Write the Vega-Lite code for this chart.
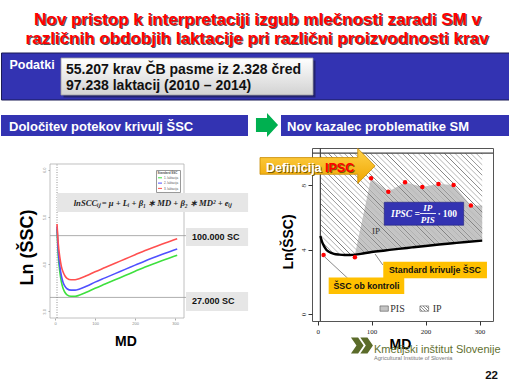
{
"$schema": "https://vega.github.io/schema/vega-lite/v6.json",
"padding": 0,
"background": "#ffffff",
"bounds": "flush",
"spacing": 0,
"config": {"view": {"stroke": null}, "font": "Liberation Sans"},
"datasets": {
"laktacije": [
{"md":5,"lnscc":4.75,"lakt":"1. laktacija"},{"md":8,"lnscc":4.2,"lakt":"1. laktacija"},{"md":12,"lnscc":3.84,"lakt":"1. laktacija"},{"md":16,"lnscc":3.62,"lakt":"1. laktacija"},{"md":20,"lnscc":3.49,"lakt":"1. laktacija"},{"md":25,"lnscc":3.4,"lakt":"1. laktacija"},{"md":30,"lnscc":3.35,"lakt":"1. laktacija"},{"md":40,"lnscc":3.32,"lakt":"1. laktacija"},{"md":50,"lnscc":3.32,"lakt":"1. laktacija"},{"md":60,"lnscc":3.34,"lakt":"1. laktacija"},{"md":80,"lnscc":3.41,"lakt":"1. laktacija"},{"md":100,"lnscc":3.49,"lakt":"1. laktacija"},{"md":125,"lnscc":3.58,"lakt":"1. laktacija"},{"md":150,"lnscc":3.67,"lakt":"1. laktacija"},{"md":175,"lnscc":3.76,"lakt":"1. laktacija"},{"md":200,"lnscc":3.85,"lakt":"1. laktacija"},{"md":225,"lnscc":3.94,"lakt":"1. laktacija"},{"md":250,"lnscc":4.02,"lakt":"1. laktacija"},{"md":275,"lnscc":4.1,"lakt":"1. laktacija"},{"md":305,"lnscc":4.19,"lakt":"1. laktacija"},
{"md":5,"lnscc":4.8,"lakt":"2. laktacija"},{"md":8,"lnscc":4.3,"lakt":"2. laktacija"},{"md":12,"lnscc":3.96,"lakt":"2. laktacija"},{"md":16,"lnscc":3.75,"lakt":"2. laktacija"},{"md":20,"lnscc":3.62,"lakt":"2. laktacija"},{"md":25,"lnscc":3.53,"lakt":"2. laktacija"},{"md":30,"lnscc":3.48,"lakt":"2. laktacija"},{"md":40,"lnscc":3.45,"lakt":"2. laktacija"},{"md":50,"lnscc":3.45,"lakt":"2. laktacija"},{"md":60,"lnscc":3.47,"lakt":"2. laktacija"},{"md":80,"lnscc":3.54,"lakt":"2. laktacija"},{"md":100,"lnscc":3.62,"lakt":"2. laktacija"},{"md":125,"lnscc":3.71,"lakt":"2. laktacija"},{"md":150,"lnscc":3.8,"lakt":"2. laktacija"},{"md":175,"lnscc":3.89,"lakt":"2. laktacija"},{"md":200,"lnscc":3.98,"lakt":"2. laktacija"},{"md":225,"lnscc":4.07,"lakt":"2. laktacija"},{"md":250,"lnscc":4.15,"lakt":"2. laktacija"},{"md":275,"lnscc":4.23,"lakt":"2. laktacija"},{"md":305,"lnscc":4.32,"lakt":"2. laktacija"},
{"md":5,"lnscc":4.85,"lakt":"3. laktacija"},{"md":8,"lnscc":4.45,"lakt":"3. laktacija"},{"md":12,"lnscc":4.15,"lakt":"3. laktacija"},{"md":16,"lnscc":3.95,"lakt":"3. laktacija"},{"md":20,"lnscc":3.84,"lakt":"3. laktacija"},{"md":25,"lnscc":3.75,"lakt":"3. laktacija"},{"md":30,"lnscc":3.7,"lakt":"3. laktacija"},{"md":40,"lnscc":3.67,"lakt":"3. laktacija"},{"md":50,"lnscc":3.67,"lakt":"3. laktacija"},{"md":60,"lnscc":3.69,"lakt":"3. laktacija"},{"md":80,"lnscc":3.76,"lakt":"3. laktacija"},{"md":100,"lnscc":3.84,"lakt":"3. laktacija"},{"md":125,"lnscc":3.93,"lakt":"3. laktacija"},{"md":150,"lnscc":4.02,"lakt":"3. laktacija"},{"md":175,"lnscc":4.11,"lakt":"3. laktacija"},{"md":200,"lnscc":4.2,"lakt":"3. laktacija"},{"md":225,"lnscc":4.29,"lakt":"3. laktacija"},{"md":250,"lnscc":4.37,"lakt":"3. laktacija"},{"md":275,"lnscc":4.45,"lakt":"3. laktacija"},{"md":305,"lnscc":4.54,"lakt":"3. laktacija"}
],
"standard": [
{"md":5,"ssc":4.85},{"md":8,"ssc":4.5},{"md":12,"ssc":4.2},{"md":16,"ssc":4.0},{"md":20,"ssc":3.88},{"md":25,"ssc":3.8},{"md":30,"ssc":3.74},{"md":40,"ssc":3.69},{"md":50,"ssc":3.67},{"md":60,"ssc":3.67},{"md":70,"ssc":3.69},{"md":80,"ssc":3.74},{"md":100,"ssc":3.85},{"md":125,"ssc":3.95},{"md":150,"ssc":4.05},{"md":175,"ssc":4.14},{"md":200,"ssc":4.23},{"md":225,"ssc":4.32},{"md":250,"ssc":4.4},{"md":275,"ssc":4.48},{"md":305,"ssc":4.56}
],
"pis": [
{"md":69,"top":3.69,"bottom":3.69},{"md":99,"top":8.44,"bottom":3.85},{"md":131,"top":7.6,"bottom":3.97},{"md":162,"top":8.19,"bottom":4.09},{"md":194,"top":7.9,"bottom":4.21},{"md":224,"top":8.08,"bottom":4.32},{"md":252,"top":8.02,"bottom":4.41},{"md":284,"top":6.75,"bottom":4.5},{"md":305,"top":6.75,"bottom":4.56}
],
"kontrola": [
{"md":11,"ssc":3.67},{"md":69,"ssc":3.52},{"md":99,"ssc":8.44},{"md":131,"ssc":7.6},{"md":162,"ssc":8.19},{"md":194,"ssc":7.9},{"md":224,"ssc":8.08},{"md":252,"ssc":8.02},{"md":284,"ssc":6.75}
]
},
"vconcat": [
{
"width": 509, "height": 148,
"data": {"values": [{}]},
"layer": [
{"mark": {"type":"rect","fill":"#3333B2","stroke":"#1B1B55","strokeWidth":1},
 "encoding": {"x":{"datum":0.5,"type":"quantitative","scale":{"domain":[0,509],"nice":false,"zero":false},"axis":null},"x2":{"datum":508.5},"y":{"datum":53,"type":"quantitative","scale":{"domain":[0,148],"nice":false,"zero":false,"reverse":true},"axis":null},"y2":{"datum":100}}},
{"mark": {"type":"rect","fill":"#15153a","opacity":0.55},
 "encoding": {"x":{"datum":62.5,"type":"quantitative","scale":{"domain":[0,509],"nice":false,"zero":false},"axis":null},"x2":{"datum":314.5},"y":{"datum":60.5,"type":"quantitative","scale":{"domain":[0,148],"nice":false,"zero":false,"reverse":true},"axis":null},"y2":{"datum":97.5}}},
{"mark": {"type":"rect","stroke":"#a0a0a0","strokeWidth":0.8,"fill":{"gradient":"linear","x1":0,"y1":0,"x2":0,"y2":1,"stops":[{"offset":0,"color":"#ffffff"},{"offset":1,"color":"#d2d2d2"}]}},
 "encoding": {"x":{"datum":60,"type":"quantitative","scale":{"domain":[0,509],"nice":false,"zero":false},"axis":null},"x2":{"datum":312},"y":{"datum":58,"type":"quantitative","scale":{"domain":[0,148],"nice":false,"zero":false,"reverse":true},"axis":null},"y2":{"datum":95}}},
{"mark": {"type":"rect","fill":"#3333B2"},
 "encoding": {"x":{"datum":0,"type":"quantitative","scale":{"domain":[0,509],"nice":false,"zero":false},"axis":null},"x2":{"datum":247},"y":{"datum":115,"type":"quantitative","scale":{"domain":[0,148],"nice":false,"zero":false,"reverse":true},"axis":null},"y2":{"datum":136}}},
{"mark": {"type":"rect","fill":"#3333B2"},
 "encoding": {"x":{"datum":280,"type":"quantitative","scale":{"domain":[0,509],"nice":false,"zero":false},"axis":null},"x2":{"datum":509},"y":{"datum":115,"type":"quantitative","scale":{"domain":[0,148],"nice":false,"zero":false,"reverse":true},"axis":null},"y2":{"datum":136}}},
{"mark": {"type":"point","filled":true,"opacity":1,"fill":"#00B050","strokeWidth":0,"size":576,"shape":"M -0.92 -0.58 L 0 -0.58 L 0 -1 L 0.92 0 L 0 1 L 0 0.58 L -0.92 0.58 Z"},
 "encoding": {"x":{"datum":266,"type":"quantitative","scale":{"domain":[0,509],"nice":false,"zero":false},"axis":null},"y":{"datum":125,"type":"quantitative","scale":{"domain":[0,148],"nice":false,"zero":false,"reverse":true},"axis":null}}},
{"mark": {"type":"text","text":"Nov pristop k interpretaciji izgub mlečnosti zaradi SM v","font":"Liberation Sans","fontWeight":"bold","fontSize":17,"align":"center","baseline":"alphabetic","fill":"#555555","dx":1.2,"dy":1.2},
 "encoding": {"x":{"datum":256.5,"type":"quantitative","scale":{"domain":[0,509],"nice":false,"zero":false},"axis":null},"y":{"datum":25,"type":"quantitative","scale":{"domain":[0,148],"nice":false,"zero":false,"reverse":true},"axis":null}}},
{"mark": {"type":"text","text":"Nov pristop k interpretaciji izgub mlečnosti zaradi SM v","font":"Liberation Sans","fontWeight":"bold","fontSize":17,"align":"center","baseline":"alphabetic","fill":"#FF0000"},
 "encoding": {"x":{"datum":256.5,"type":"quantitative","scale":{"domain":[0,509],"nice":false,"zero":false},"axis":null},"y":{"datum":25,"type":"quantitative","scale":{"domain":[0,148],"nice":false,"zero":false,"reverse":true},"axis":null}}},
{"mark": {"type":"text","text":"različnih obdobjih laktacije pri različni proizvodnosti krav","font":"Liberation Sans","fontWeight":"bold","fontSize":17,"align":"center","baseline":"alphabetic","fill":"#555555","dx":1.2,"dy":1.2},
 "encoding": {"x":{"datum":256,"type":"quantitative","scale":{"domain":[0,509],"nice":false,"zero":false},"axis":null},"y":{"datum":43.5,"type":"quantitative","scale":{"domain":[0,148],"nice":false,"zero":false,"reverse":true},"axis":null}}},
{"mark": {"type":"text","text":"različnih obdobjih laktacije pri različni proizvodnosti krav","font":"Liberation Sans","fontWeight":"bold","fontSize":17,"align":"center","baseline":"alphabetic","fill":"#FF0000"},
 "encoding": {"x":{"datum":256,"type":"quantitative","scale":{"domain":[0,509],"nice":false,"zero":false},"axis":null},"y":{"datum":43.5,"type":"quantitative","scale":{"domain":[0,148],"nice":false,"zero":false,"reverse":true},"axis":null}}},
{"mark": {"type":"text","text":"Podatki","font":"Liberation Sans","fontWeight":"bold","fontSize":12.5,"align":"left","baseline":"alphabetic","fill":"#ffffff"},
 "encoding": {"x":{"datum":8.5,"type":"quantitative","scale":{"domain":[0,509],"nice":false,"zero":false},"axis":null},"y":{"datum":68.5,"type":"quantitative","scale":{"domain":[0,148],"nice":false,"zero":false,"reverse":true},"axis":null}}},
{"mark": {"type":"text","text":"55.207 krav ČB pasme iz 2.328 čred","font":"Liberation Sans","fontWeight":"bold","fontSize":14,"align":"left","baseline":"alphabetic","fill":"#111111"},
 "encoding": {"x":{"datum":65,"type":"quantitative","scale":{"domain":[0,509],"nice":false,"zero":false},"axis":null},"y":{"datum":74,"type":"quantitative","scale":{"domain":[0,148],"nice":false,"zero":false,"reverse":true},"axis":null}}},
{"mark": {"type":"text","text":"97.238 laktacij (2010 – 2014)","font":"Liberation Sans","fontWeight":"bold","fontSize":14,"align":"left","baseline":"alphabetic","fill":"#111111"},
 "encoding": {"x":{"datum":65,"type":"quantitative","scale":{"domain":[0,509],"nice":false,"zero":false},"axis":null},"y":{"datum":89.5,"type":"quantitative","scale":{"domain":[0,148],"nice":false,"zero":false,"reverse":true},"axis":null}}},
{"mark": {"type":"text","text":"Določitev potekov krivulj ŠSC","font":"Liberation Sans","fontWeight":"bold","fontSize":13,"align":"left","baseline":"alphabetic","fill":"#ffffff"},
 "encoding": {"x":{"datum":8,"type":"quantitative","scale":{"domain":[0,509],"nice":false,"zero":false},"axis":null},"y":{"datum":130.5,"type":"quantitative","scale":{"domain":[0,148],"nice":false,"zero":false,"reverse":true},"axis":null}}},
{"mark": {"type":"text","text":"Nov kazalec problematike SM","font":"Liberation Sans","fontWeight":"bold","fontSize":13,"align":"left","baseline":"alphabetic","fill":"#ffffff"},
 "encoding": {"x":{"datum":286,"type":"quantitative","scale":{"domain":[0,509],"nice":false,"zero":false},"axis":null},"y":{"datum":130.5,"type":"quantitative","scale":{"domain":[0,148],"nice":false,"zero":false,"reverse":true},"axis":null}}}
]
},
{
"hconcat": [
{"width": 49, "height": 10, "data": {"values": [{}]}, "mark": {"type": "text", "text": ""}},
{
"width": 134, "height": 170,
"data": {"values": [{}]},
"layer": [
{"mark": {"type":"rect","fill":"#ffffff","stroke":"#b0b0b0","strokeWidth":0.8},
 "encoding": {"x":{"datum":-12.5,"type":"quantitative","scale":{"domain":[-12.5,322],"nice":false,"zero":false}},"x2":{"datum":322},"y":{"datum":2.86,"type":"quantitative","scale":{"domain":[2.86,6.4617],"nice":false,"zero":false}},"y2":{"datum":6.123}}},
{"mark": {"type":"rule","color":"#999999","strokeWidth":0.8},
 "encoding": {"x":{"datum":-12.5,"type":"quantitative","scale":{"domain":[-12.5,322],"nice":false,"zero":false}},"x2":{"datum":327},"y":{"datum":4.605,"type":"quantitative","scale":{"domain":[2.86,6.4617],"nice":false,"zero":false}}}},
{"mark": {"type":"rule","color":"#999999","strokeWidth":0.8},
 "encoding": {"x":{"datum":-12.5,"type":"quantitative","scale":{"domain":[-12.5,322],"nice":false,"zero":false}},"x2":{"datum":327},"y":{"datum":3.296,"type":"quantitative","scale":{"domain":[2.86,6.4617],"nice":false,"zero":false}}}},
{"mark": {"type":"rule","color":"#777777","strokeWidth":0.8,"strokeDash":[1,1.5]},
 "encoding": {"x":{"datum":5,"type":"quantitative","scale":{"domain":[-12.5,322],"nice":false,"zero":false}},"y":{"datum":2.86,"type":"quantitative","scale":{"domain":[2.86,6.4617],"nice":false,"zero":false}},"y2":{"datum":6.123}}},
{"data": {"name": "laktacije"},
 "mark": {"type":"line","strokeWidth":1.6,"interpolate":"monotone"},
 "encoding": {
  "x": {"field":"md","type":"quantitative","scale":{"domain":[-12.5,322],"nice":false,"zero":false},
        "axis":{"values":[0,50,100,150,200,250,300],"labelFontSize":4,"labelColor":"#888888","tickColor":"#aaaaaa","tickSize":2,"labelPadding":1.5,"domain":false,"grid":false,"title":"MD","titleFont":"Liberation Sans","titleFontSize":14,"titleFontWeight":"bold","titleColor":"#000000","titleX":75.5,"titlePadding":9}},
  "y": {"field":"lnscc","type":"quantitative","scale":{"domain":[2.86,6.4617],"nice":false,"zero":false},
        "axis":{"values":[3,3.5,4,4.5,5,5.5,6],"format":".1f","labelFontSize":4,"labelAngle":-90,"labelColor":"#888888","tickColor":"#aaaaaa","tickSize":2,"labelPadding":2,"domain":false,"grid":false,"title":"Ln (ŠSC)","titleFont":"Liberation Sans","titleFontSize":18,"titleFontWeight":"bold","titleColor":"#000000","titleY":99,"titlePadding":6}},
  "color": {"field":"lakt","type":"nominal","scale":{"domain":["1. laktacija","2. laktacija","3. laktacija"],"range":["#3ee03e","#5050ff","#ff5050"]},
        "legend":{"orient":"none","legendX":155,"legendY":170,"title":"Standard ŠSC","titleFontSize":3,"titleFont":"Liberation Sans","titleColor":"#555555","titlePadding":0.8,"labelFontSize":3,"labelFont":"Liberation Sans","labelColor":"#555555","labelOffset":1.5,"symbolType":"stroke","symbolSize":16,"symbolStrokeWidth":1,"padding":1.5,"rowPadding":0.3,"strokeColor":"#999999","fillColor":"#ffffff"}}
 }},
{"mark": {"type":"rect","fill":"#e6e6e6"},
 "encoding": {"x":{"datum":5,"type":"quantitative","scale":{"domain":[-12.5,322],"nice":false,"zero":false}},"x2":{"datum":482},"y":{"datum":5.106,"type":"quantitative","scale":{"domain":[2.86,6.4617],"nice":false,"zero":false}},"y2":{"datum":5.508}}},
{"mark": {"type":"text","text":"lnSCCᵢⱼ =  μ + Lᵢ + β₁ ∗ MD + β₂ ∗ MD² + eᵢⱼ","font":"Liberation Serif","fontStyle":"italic","fontWeight":"bold","fontSize":8.6,"align":"center","baseline":"middle","fill":"#222222"},
 "encoding": {"x":{"datum":243,"type":"quantitative","scale":{"domain":[-12.5,322],"nice":false,"zero":false}},"y":{"datum":5.307,"type":"quantitative","scale":{"domain":[2.86,6.4617],"nice":false,"zero":false}}}},
{"mark": {"type":"rect","fill":"#e6e6e6"},
 "encoding": {"x":{"datum":327,"type":"quantitative","scale":{"domain":[-12.5,322],"nice":false,"zero":false}},"x2":{"datum":482},"y":{"datum":4.385,"type":"quantitative","scale":{"domain":[2.86,6.4617],"nice":false,"zero":false}},"y2":{"datum":4.767}}},
{"mark": {"type":"text","text":"100.000 SC","font":"Liberation Sans","fontWeight":"bold","fontSize":9,"align":"left","baseline":"middle","fill":"#111111"},
 "encoding": {"x":{"datum":342,"type":"quantitative","scale":{"domain":[-12.5,322],"nice":false,"zero":false}},"y":{"datum":4.576,"type":"quantitative","scale":{"domain":[2.86,6.4617],"nice":false,"zero":false}}}},
{"mark": {"type":"rect","fill":"#e6e6e6"},
 "encoding": {"x":{"datum":327,"type":"quantitative","scale":{"domain":[-12.5,322],"nice":false,"zero":false}},"x2":{"datum":482},"y":{"datum":3.008,"type":"quantitative","scale":{"domain":[2.86,6.4617],"nice":false,"zero":false}},"y2":{"datum":3.411}}},
{"mark": {"type":"text","text":"27.000 SC","font":"Liberation Sans","fontWeight":"bold","fontSize":9,"align":"left","baseline":"middle","fill":"#111111"},
 "encoding": {"x":{"datum":342,"type":"quantitative","scale":{"domain":[-12.5,322],"nice":false,"zero":false}},"y":{"datum":3.21,"type":"quantitative","scale":{"domain":[2.86,6.4617],"nice":false,"zero":false}}}}
]
},
{"width": 128, "height": 10, "data": {"values": [{}]}, "mark": {"type": "text", "text": ""}},
{
"width": 181, "height": 173,
"view": {"stroke": "#555555", "strokeWidth": 1},
"data": {"values": [{}]},
"layer": [
{"data": {"name": "pis"},
 "mark": {"type":"area","fill":"#c4c4c4"},
 "encoding": {"x":{"field":"md","type":"quantitative","scale":{"domain":[-10.5,325],"nice":false,"zero":false}},"y":{"field":"top","type":"quantitative","scale":{"domain":[-0.44,10.325],"nice":false,"zero":false}},"y2":{"field":"bottom"}}},
{"data": {"name": "standard"},
 "mark": {"type":"area","interpolate":"monotone","fill":{"gradient":"linear","x1":0,"y1":1,"x2":1.167,"y2":0.265,"stops":[
{"offset":0,"color":"rgba(255,255,255,0)"},
{"offset":0.012,"color":"rgba(255,255,255,0)"},{"offset":0.016,"color":"#7a7a7a"},{"offset":0.02,"color":"rgba(255,255,255,0)"},
{"offset":0.032,"color":"rgba(255,255,255,0)"},{"offset":0.036,"color":"#7a7a7a"},{"offset":0.04,"color":"rgba(255,255,255,0)"},
{"offset":0.052,"color":"rgba(255,255,255,0)"},{"offset":0.056,"color":"#7a7a7a"},{"offset":0.06,"color":"rgba(255,255,255,0)"},
{"offset":0.072,"color":"rgba(255,255,255,0)"},{"offset":0.076,"color":"#7a7a7a"},{"offset":0.08,"color":"rgba(255,255,255,0)"},
{"offset":0.092,"color":"rgba(255,255,255,0)"},{"offset":0.096,"color":"#7a7a7a"},{"offset":0.1,"color":"rgba(255,255,255,0)"},
{"offset":0.112,"color":"rgba(255,255,255,0)"},{"offset":0.116,"color":"#7a7a7a"},{"offset":0.12,"color":"rgba(255,255,255,0)"},
{"offset":0.132,"color":"rgba(255,255,255,0)"},{"offset":0.136,"color":"#7a7a7a"},{"offset":0.14,"color":"rgba(255,255,255,0)"},
{"offset":0.152,"color":"rgba(255,255,255,0)"},{"offset":0.156,"color":"#7a7a7a"},{"offset":0.16,"color":"rgba(255,255,255,0)"},
{"offset":0.172,"color":"rgba(255,255,255,0)"},{"offset":0.176,"color":"#7a7a7a"},{"offset":0.18,"color":"rgba(255,255,255,0)"},
{"offset":0.192,"color":"rgba(255,255,255,0)"},{"offset":0.196,"color":"#7a7a7a"},{"offset":0.2,"color":"rgba(255,255,255,0)"},
{"offset":0.212,"color":"rgba(255,255,255,0)"},{"offset":0.216,"color":"#7a7a7a"},{"offset":0.22,"color":"rgba(255,255,255,0)"},
{"offset":0.232,"color":"rgba(255,255,255,0)"},{"offset":0.236,"color":"#7a7a7a"},{"offset":0.24,"color":"rgba(255,255,255,0)"},
{"offset":0.252,"color":"rgba(255,255,255,0)"},{"offset":0.256,"color":"#7a7a7a"},{"offset":0.26,"color":"rgba(255,255,255,0)"},
{"offset":0.272,"color":"rgba(255,255,255,0)"},{"offset":0.276,"color":"#7a7a7a"},{"offset":0.28,"color":"rgba(255,255,255,0)"},
{"offset":0.292,"color":"rgba(255,255,255,0)"},{"offset":0.296,"color":"#7a7a7a"},{"offset":0.3,"color":"rgba(255,255,255,0)"},
{"offset":0.312,"color":"rgba(255,255,255,0)"},{"offset":0.316,"color":"#7a7a7a"},{"offset":0.32,"color":"rgba(255,255,255,0)"},
{"offset":0.332,"color":"rgba(255,255,255,0)"},{"offset":0.336,"color":"#7a7a7a"},{"offset":0.34,"color":"rgba(255,255,255,0)"},
{"offset":0.352,"color":"rgba(255,255,255,0)"},{"offset":0.356,"color":"#7a7a7a"},{"offset":0.36,"color":"rgba(255,255,255,0)"},
{"offset":0.372,"color":"rgba(255,255,255,0)"},{"offset":0.376,"color":"#7a7a7a"},{"offset":0.38,"color":"rgba(255,255,255,0)"},
{"offset":0.392,"color":"rgba(255,255,255,0)"},{"offset":0.396,"color":"#7a7a7a"},{"offset":0.4,"color":"rgba(255,255,255,0)"},
{"offset":0.412,"color":"rgba(255,255,255,0)"},{"offset":0.416,"color":"#7a7a7a"},{"offset":0.42,"color":"rgba(255,255,255,0)"},
{"offset":0.432,"color":"rgba(255,255,255,0)"},{"offset":0.436,"color":"#7a7a7a"},{"offset":0.44,"color":"rgba(255,255,255,0)"},
{"offset":0.452,"color":"rgba(255,255,255,0)"},{"offset":0.456,"color":"#7a7a7a"},{"offset":0.46,"color":"rgba(255,255,255,0)"},
{"offset":0.472,"color":"rgba(255,255,255,0)"},{"offset":0.476,"color":"#7a7a7a"},{"offset":0.48,"color":"rgba(255,255,255,0)"},
{"offset":0.492,"color":"rgba(255,255,255,0)"},{"offset":0.496,"color":"#7a7a7a"},{"offset":0.5,"color":"rgba(255,255,255,0)"},
{"offset":0.512,"color":"rgba(255,255,255,0)"},{"offset":0.516,"color":"#7a7a7a"},{"offset":0.52,"color":"rgba(255,255,255,0)"},
{"offset":0.532,"color":"rgba(255,255,255,0)"},{"offset":0.536,"color":"#7a7a7a"},{"offset":0.54,"color":"rgba(255,255,255,0)"},
{"offset":0.552,"color":"rgba(255,255,255,0)"},{"offset":0.556,"color":"#7a7a7a"},{"offset":0.56,"color":"rgba(255,255,255,0)"},
{"offset":0.572,"color":"rgba(255,255,255,0)"},{"offset":0.576,"color":"#7a7a7a"},{"offset":0.58,"color":"rgba(255,255,255,0)"},
{"offset":0.592,"color":"rgba(255,255,255,0)"},{"offset":0.596,"color":"#7a7a7a"},{"offset":0.6,"color":"rgba(255,255,255,0)"},
{"offset":0.612,"color":"rgba(255,255,255,0)"},{"offset":0.616,"color":"#7a7a7a"},{"offset":0.62,"color":"rgba(255,255,255,0)"},
{"offset":0.632,"color":"rgba(255,255,255,0)"},{"offset":0.636,"color":"#7a7a7a"},{"offset":0.64,"color":"rgba(255,255,255,0)"},
{"offset":0.652,"color":"rgba(255,255,255,0)"},{"offset":0.656,"color":"#7a7a7a"},{"offset":0.66,"color":"rgba(255,255,255,0)"},
{"offset":0.672,"color":"rgba(255,255,255,0)"},{"offset":0.676,"color":"#7a7a7a"},{"offset":0.68,"color":"rgba(255,255,255,0)"},
{"offset":0.692,"color":"rgba(255,255,255,0)"},{"offset":0.696,"color":"#7a7a7a"},{"offset":0.7,"color":"rgba(255,255,255,0)"},
{"offset":0.712,"color":"rgba(255,255,255,0)"},{"offset":0.716,"color":"#7a7a7a"},{"offset":0.72,"color":"rgba(255,255,255,0)"},
{"offset":0.732,"color":"rgba(255,255,255,0)"},{"offset":0.736,"color":"#7a7a7a"},{"offset":0.74,"color":"rgba(255,255,255,0)"},
{"offset":0.752,"color":"rgba(255,255,255,0)"},{"offset":0.756,"color":"#7a7a7a"},{"offset":0.76,"color":"rgba(255,255,255,0)"},
{"offset":0.772,"color":"rgba(255,255,255,0)"},{"offset":0.776,"color":"#7a7a7a"},{"offset":0.78,"color":"rgba(255,255,255,0)"},
{"offset":0.792,"color":"rgba(255,255,255,0)"},{"offset":0.796,"color":"#7a7a7a"},{"offset":0.8,"color":"rgba(255,255,255,0)"},
{"offset":0.812,"color":"rgba(255,255,255,0)"},{"offset":0.816,"color":"#7a7a7a"},{"offset":0.82,"color":"rgba(255,255,255,0)"},
{"offset":0.832,"color":"rgba(255,255,255,0)"},{"offset":0.836,"color":"#7a7a7a"},{"offset":0.84,"color":"rgba(255,255,255,0)"},
{"offset":0.852,"color":"rgba(255,255,255,0)"},{"offset":0.856,"color":"#7a7a7a"},{"offset":0.86,"color":"rgba(255,255,255,0)"},
{"offset":0.872,"color":"rgba(255,255,255,0)"},{"offset":0.876,"color":"#7a7a7a"},{"offset":0.88,"color":"rgba(255,255,255,0)"},
{"offset":0.892,"color":"rgba(255,255,255,0)"},{"offset":0.896,"color":"#7a7a7a"},{"offset":0.9,"color":"rgba(255,255,255,0)"},
{"offset":0.912,"color":"rgba(255,255,255,0)"},{"offset":0.916,"color":"#7a7a7a"},{"offset":0.92,"color":"rgba(255,255,255,0)"},
{"offset":0.932,"color":"rgba(255,255,255,0)"},{"offset":0.936,"color":"#7a7a7a"},{"offset":0.94,"color":"rgba(255,255,255,0)"},
{"offset":0.952,"color":"rgba(255,255,255,0)"},{"offset":0.956,"color":"#7a7a7a"},{"offset":0.96,"color":"rgba(255,255,255,0)"},
{"offset":0.972,"color":"rgba(255,255,255,0)"},{"offset":0.976,"color":"#7a7a7a"},{"offset":0.98,"color":"rgba(255,255,255,0)"},
{"offset":0.992,"color":"rgba(255,255,255,0)"},{"offset":0.996,"color":"#7a7a7a"},{"offset":1,"color":"rgba(255,255,255,0)"}
]}},
 "encoding": {"x":{"field":"md","type":"quantitative","scale":{"domain":[-10.5,325],"nice":false,"zero":false}},"y":{"field":"ssc","type":"quantitative","scale":{"domain":[-0.44,10.325],"nice":false,"zero":false}},"y2":{"datum":10}}},
{"mark": {"type":"rule","color":"#444444","strokeWidth":1.2},
 "encoding": {"x":{"datum":5,"type":"quantitative","scale":{"domain":[-10.5,325],"nice":false,"zero":false}},"y":{"datum":-0.44,"type":"quantitative","scale":{"domain":[-0.44,10.325],"nice":false,"zero":false}},"y2":{"datum":10.325}}},
{"mark": {"type":"rule","color":"#444444","strokeWidth":1.2},
 "encoding": {"x":{"datum":-10.5,"type":"quantitative","scale":{"domain":[-10.5,325],"nice":false,"zero":false}},"x2":{"datum":325},"y":{"datum":10,"type":"quantitative","scale":{"domain":[-0.44,10.325],"nice":false,"zero":false}}}},
{"data": {"name": "standard"},
 "mark": {"type":"line","color":"#000000","strokeWidth":2.4,"interpolate":"monotone"},
 "encoding": {
  "x": {"field":"md","type":"quantitative","scale":{"domain":[-10.5,325],"nice":false,"zero":false},
        "axis":{"values":[0,50,100,150,200,250,300],"labelFont":"Liberation Serif","labelFontSize":7,"labelColor":"#222222","tickColor":"#333333","tickSize":4,"labelPadding":2,"domain":false,"grid":false,"title":"MD","titleFont":"Liberation Sans","titleFontSize":14,"titleFontWeight":"bold","titleColor":"#000000","titleX":88,"titlePadding":3}},
  "y": {"field":"ssc","type":"quantitative","scale":{"domain":[-0.44,10.325],"nice":false,"zero":false},
        "axis":{"values":[0,2,4,6,8,10],"labelFont":"Liberation Serif","labelFontSize":7,"labelAngle":-90,"labelColor":"#222222","tickColor":"#333333","tickSize":4,"labelPadding":2,"domain":false,"grid":false,"title":"Ln(ŠSC)","titleFont":"Liberation Sans","titleFontSize":14,"titleFontWeight":"bold","titleColor":"#000000","titleY":93.5,"titlePadding":4}}
 }},
{"data": {"name": "kontrola"},
 "mark": {"type":"point","filled":true,"opacity":1,"fill":"#ff0000","strokeWidth":0,"size":20},
 "encoding": {"x":{"field":"md","type":"quantitative","scale":{"domain":[-10.5,325],"nice":false,"zero":false}},"y":{"field":"ssc","type":"quantitative","scale":{"domain":[-0.44,10.325],"nice":false,"zero":false}}}},
{"mark": {"type":"text","text":"IP","font":"Liberation Serif","fontSize":9,"align":"center","baseline":"middle","fill":"#333333"},
 "encoding": {"x":{"datum":108,"type":"quantitative","scale":{"domain":[-10.5,325],"nice":false,"zero":false}},"y":{"datum":5.15,"type":"quantitative","scale":{"domain":[-0.44,10.325],"nice":false,"zero":false}}}},
{"mark": {"type":"rect","fill":"#c4c4c4","stroke":"#555555","strokeWidth":0.6},
 "encoding": {"x":{"datum":115.5,"type":"quantitative","scale":{"domain":[-10.5,325],"nice":false,"zero":false}},"x2":{"datum":131},"y":{"datum":0.168,"type":"quantitative","scale":{"domain":[-0.44,10.325],"nice":false,"zero":false}},"y2":{"datum":0.498}}},
{"mark": {"type":"text","text":"PIS","font":"Liberation Serif","fontSize":10,"align":"left","baseline":"middle","fill":"#333333"},
 "encoding": {"x":{"datum":134.6,"type":"quantitative","scale":{"domain":[-10.5,325],"nice":false,"zero":false}},"y":{"datum":0.31,"type":"quantitative","scale":{"domain":[-0.44,10.325],"nice":false,"zero":false}}}},
{"mark": {"type":"rect","stroke":"#555555","strokeWidth":0.6,"fill":{"gradient":"linear","x1":0,"y1":1,"x2":1,"y2":0.4,"stops":[{"offset":0,"color":"#ffffff"},{"offset":0.14,"color":"#ffffff"},{"offset":0.2,"color":"#888888"},{"offset":0.26,"color":"#ffffff"},{"offset":0.39,"color":"#ffffff"},{"offset":0.45,"color":"#888888"},{"offset":0.51,"color":"#ffffff"},{"offset":0.64,"color":"#ffffff"},{"offset":0.7,"color":"#888888"},{"offset":0.76,"color":"#ffffff"},{"offset":0.89,"color":"#ffffff"},{"offset":0.95,"color":"#888888"},{"offset":1,"color":"#ffffff"}]}},
 "encoding": {"x":{"datum":189.6,"type":"quantitative","scale":{"domain":[-10.5,325],"nice":false,"zero":false}},"x2":{"datum":205.7},"y":{"datum":0.168,"type":"quantitative","scale":{"domain":[-0.44,10.325],"nice":false,"zero":false}},"y2":{"datum":0.498}}},
{"mark": {"type":"text","text":"IP","font":"Liberation Serif","fontSize":10,"align":"left","baseline":"middle","fill":"#333333"},
 "encoding": {"x":{"datum":213.2,"type":"quantitative","scale":{"domain":[-10.5,325],"nice":false,"zero":false}},"y":{"datum":0.31,"type":"quantitative","scale":{"domain":[-0.44,10.325],"nice":false,"zero":false}}}},
{"mark": {"type":"rule","color":"#8a8a8a","strokeWidth":1},
 "encoding": {"x":{"datum":12.3,"type":"quantitative","scale":{"domain":[-10.5,325],"nice":false,"zero":false}},"x2":{"datum":55.7},"y":{"datum":3.57,"type":"quantitative","scale":{"domain":[-0.44,10.325],"nice":false,"zero":false}},"y2":{"datum":2.22}}},
{"mark": {"type":"rule","color":"#8a8a8a","strokeWidth":1},
 "encoding": {"x":{"datum":106.4,"type":"quantitative","scale":{"domain":[-10.5,325],"nice":false,"zero":false}},"x2":{"datum":120.7},"y":{"datum":3.73,"type":"quantitative","scale":{"domain":[-0.44,10.325],"nice":false,"zero":false}},"y2":{"datum":3.05}}},
{"mark": {"type":"rect","fill":"#FFC000"},
 "encoding": {"x":{"datum":121.6,"type":"quantitative","scale":{"domain":[-10.5,325],"nice":false,"zero":false}},"x2":{"datum":313.8},"y":{"datum":2.22,"type":"quantitative","scale":{"domain":[-0.44,10.325],"nice":false,"zero":false}},"y2":{"datum":3.25}}},
{"mark": {"type":"text","text":"Standard krivulje ŠSC","font":"Liberation Sans","fontWeight":"bold","fontSize":8.8,"align":"center","baseline":"middle","fill":"#111111"},
 "encoding": {"x":{"datum":217.4,"type":"quantitative","scale":{"domain":[-10.5,325],"nice":false,"zero":false}},"y":{"datum":2.74,"type":"quantitative","scale":{"domain":[-0.44,10.325],"nice":false,"zero":false}}}},
{"mark": {"type":"rect","fill":"#FFC000"},
 "encoding": {"x":{"datum":20.4,"type":"quantitative","scale":{"domain":[-10.5,325],"nice":false,"zero":false}},"x2":{"datum":160.5},"y":{"datum":1.24,"type":"quantitative","scale":{"domain":[-0.44,10.325],"nice":false,"zero":false}},"y2":{"datum":2.26}}},
{"mark": {"type":"text","text":"ŠSC ob kontroli","font":"Liberation Sans","fontWeight":"bold","fontSize":8.8,"align":"center","baseline":"middle","fill":"#111111"},
 "encoding": {"x":{"datum":90.5,"type":"quantitative","scale":{"domain":[-10.5,325],"nice":false,"zero":false}},"y":{"datum":1.74,"type":"quantitative","scale":{"domain":[-0.44,10.325],"nice":false,"zero":false}}}},
{"mark": {"type":"rect","fill":"#3333B2","stroke":"#22227a","strokeWidth":0.6},
 "encoding": {"x":{"datum":123.4,"type":"quantitative","scale":{"domain":[-10.5,325],"nice":false,"zero":false}},"x2":{"datum":270.6},"y":{"datum":5.52,"type":"quantitative","scale":{"domain":[-0.44,10.325],"nice":false,"zero":false}},"y2":{"datum":6.95}}},
{"mark": {"type":"text","text":"IPSC =","font":"Liberation Serif","fontStyle":"italic","fontWeight":"bold","fontSize":9.5,"align":"left","baseline":"middle","fill":"#ffffff"},
 "encoding": {"x":{"datum":135.9,"type":"quantitative","scale":{"domain":[-10.5,325],"nice":false,"zero":false}},"y":{"datum":6.22,"type":"quantitative","scale":{"domain":[-0.44,10.325],"nice":false,"zero":false}}}},
{"mark": {"type":"text","text":"IP","font":"Liberation Serif","fontStyle":"italic","fontWeight":"bold","fontSize":9,"align":"center","baseline":"middle","fill":"#ffffff"},
 "encoding": {"x":{"datum":203.9,"type":"quantitative","scale":{"domain":[-10.5,325],"nice":false,"zero":false}},"y":{"datum":6.62,"type":"quantitative","scale":{"domain":[-0.44,10.325],"nice":false,"zero":false}}}},
{"mark": {"type":"rule","color":"#ffffff","strokeWidth":0.9},
 "encoding": {"x":{"datum":189.6,"type":"quantitative","scale":{"domain":[-10.5,325],"nice":false,"zero":false}},"x2":{"datum":219.3},"y":{"datum":6.25,"type":"quantitative","scale":{"domain":[-0.44,10.325],"nice":false,"zero":false}}}},
{"mark": {"type":"text","text":"PIS","font":"Liberation Serif","fontStyle":"italic","fontWeight":"bold","fontSize":9,"align":"center","baseline":"middle","fill":"#ffffff"},
 "encoding": {"x":{"datum":203.9,"type":"quantitative","scale":{"domain":[-10.5,325],"nice":false,"zero":false}},"y":{"datum":5.87,"type":"quantitative","scale":{"domain":[-0.44,10.325],"nice":false,"zero":false}}}},
{"mark": {"type":"text","text":"∙ 100","font":"Liberation Serif","fontWeight":"bold","fontSize":9.5,"align":"left","baseline":"middle","fill":"#ffffff"},
 "encoding": {"x":{"datum":223,"type":"quantitative","scale":{"domain":[-10.5,325],"nice":false,"zero":false}},"y":{"datum":6.22,"type":"quantitative","scale":{"domain":[-0.44,10.325],"nice":false,"zero":false}}}},
{"mark": {"type":"point","filled":true,"opacity":1,"stroke":"#C88A00","strokeWidth":0.8,"size":13225,"shape":"M -1 -0.145 L 0.7 -0.145 L 0.7 -0.304 L 1 0 L 0.7 0.304 L 0.7 0.145 L -1 0.145 Z","fill":{"gradient":"linear","x1":0,"y1":0,"x2":0,"y2":1,"stops":[{"offset":0,"color":"#FFD24A"},{"offset":1,"color":"#EFA500"}]}},
 "encoding": {"x":{"datum":-0.3,"type":"quantitative","scale":{"domain":[-10.5,325],"nice":false,"zero":false}},"y":{"datum":9.21,"type":"quantitative","scale":{"domain":[-0.44,10.325],"nice":false,"zero":false}}}},
{"mark": {"type":"text","text":"Definicija","font":"Liberation Sans","fontWeight":"bold","fontSize":12.5,"align":"left","baseline":"alphabetic","fill":"#7a5a00","dx":1,"dy":1},
 "encoding": {"x":{"datum":-95.8,"type":"quantitative","scale":{"domain":[-10.5,325],"nice":false,"zero":false}},"y":{"datum":8.82,"type":"quantitative","scale":{"domain":[-0.44,10.325],"nice":false,"zero":false}}}},
{"mark": {"type":"text","text":"Definicija","font":"Liberation Sans","fontWeight":"bold","fontSize":12.5,"align":"left","baseline":"alphabetic","fill":"#ffffff"},
 "encoding": {"x":{"datum":-95.8,"type":"quantitative","scale":{"domain":[-10.5,325],"nice":false,"zero":false}},"y":{"datum":8.82,"type":"quantitative","scale":{"domain":[-0.44,10.325],"nice":false,"zero":false}}}},
{"mark": {"type":"text","text":"IPSC","font":"Liberation Sans","fontWeight":"bold","fontSize":12.5,"align":"left","baseline":"alphabetic","fill":"#7a5a00","dx":1,"dy":1},
 "encoding": {"x":{"datum":13.6,"type":"quantitative","scale":{"domain":[-10.5,325],"nice":false,"zero":false}},"y":{"datum":8.82,"type":"quantitative","scale":{"domain":[-0.44,10.325],"nice":false,"zero":false}}}},
{"mark": {"type":"text","text":"IPSC","font":"Liberation Sans","fontWeight":"bold","fontSize":12.5,"align":"left","baseline":"alphabetic","fill":"#FF0000"},
 "encoding": {"x":{"datum":13.6,"type":"quantitative","scale":{"domain":[-10.5,325],"nice":false,"zero":false}},"y":{"datum":8.82,"type":"quantitative","scale":{"domain":[-0.44,10.325],"nice":false,"zero":false}}}},
{"mark": {"type":"point","filled":true,"opacity":1,"fill":"#5B6B2A","strokeWidth":0,"size":484,"shape":"M -1 -0.73 L -0.35 -0.73 L 0.15 0 L -0.35 0.73 L -1 0.73 L -0.5 0 Z M -0.15 -0.73 L 0.5 -0.73 L 1 0 L 0.5 0.73 L -0.15 0.73 L 0.35 0 Z"},
 "encoding": {"x":{"datum":82.1,"type":"quantitative","scale":{"domain":[-10.5,325],"nice":false,"zero":false}},"y":{"datum":-1.96,"type":"quantitative","scale":{"domain":[-0.44,10.325],"nice":false,"zero":false}}}},
{"mark": {"type":"text","text":"Kmetijski inštitut Slovenije","font":"Liberation Sans","fontSize":11,"align":"left","baseline":"alphabetic","fill":"#5F7030"},
 "encoding": {"x":{"datum":104.4,"type":"quantitative","scale":{"domain":[-10.5,325],"nice":false,"zero":false}},"y":{"datum":-2.43,"type":"quantitative","scale":{"domain":[-0.44,10.325],"nice":false,"zero":false}}}},
{"mark": {"type":"text","text":"Agricultural Institute of Slovenia","font":"Liberation Sans","fontSize":5.6,"align":"left","baseline":"alphabetic","fill":"#777777"},
 "encoding": {"x":{"datum":104.4,"type":"quantitative","scale":{"domain":[-10.5,325],"nice":false,"zero":false}},"y":{"datum":-2.89,"type":"quantitative","scale":{"domain":[-0.44,10.325],"nice":false,"zero":false}}}},
{"mark": {"type":"text","text":"22","font":"Liberation Sans","fontWeight":"bold","fontSize":11.5,"align":"right","baseline":"alphabetic","fill":"#111111"},
 "encoding": {"x":{"datum":334.2,"type":"quantitative","scale":{"domain":[-10.5,325],"nice":false,"zero":false}},"y":{"datum":-4.04,"type":"quantitative","scale":{"domain":[-0.44,10.325],"nice":false,"zero":false}}}}
]
}
],
"spacing": 0,
"bounds": "flush"
}
]
}
